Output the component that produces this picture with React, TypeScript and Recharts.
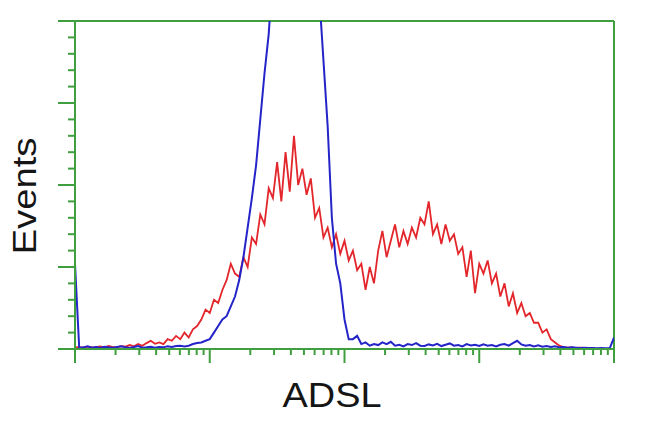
import React from 'react';
import { LineChart, Line, XAxis, YAxis, ReferenceLine } from 'recharts';

// histogram bins: 8 channels each, 1024 channels = 4 log decades
const BIN = 8;

const red = [
  0.5, 0.6, 0.4, 0.7, 0.5, 0.6, 0.8, 0.5, 0.9, 0.6,
  0.6, 0.9, 0.7, 1.2, 0.8, 1.5, 1, 1.8, 2.5, 1.6,
  2, 1.5, 3, 2.5, 4, 3, 5, 3.5, 6, 7,
  9, 12, 11, 15, 14, 18, 21, 26, 23, 22,
  28, 25, 34, 32, 41, 38, 49, 46, 57, 45,
  60, 48, 65, 50, 55, 47, 52, 40, 43, 34,
  37, 31, 35, 29, 33, 27, 30, 24, 26, 18,
  25, 20, 30, 36, 28, 33, 38, 31, 36, 32,
  37, 34, 40, 38, 45, 35, 38, 32, 38, 33,
  35, 29, 31, 22, 30, 17, 26, 23, 27, 20,
  23, 16, 20, 13, 17, 11, 14, 10, 11, 8,
  8, 5, 6, 3, 2, 1, 0.6, 0.4, 0.5, 0.3,
  0.4, 0.3, 0.2, null, null, null, null, null, null,
];

const blue = [
  26, 0.3, 0.5, 0.8, 0.4, 0.6, 0.3, 0.7, 0.5, 0.4,
  0.6, 0.8, 0.5, 0.3, 0.6, 0.9, 0.4, 0.5, 0.7, 0.4,
  0.6, 0.5, 0.8, 0.6, 0.9, 1, 0.8, 1, 1.5, 1.8,
  2, 2.5, 3, 5, 7, 9, 10, 13, 16, 21,
  28, 37, 46, 56, 70, 84, 96, 115, 140, 170,
  200, 220, 230, 230, 220, 200, 180, 160, 108, 88,
  68, 40, 26, 20, 9, 3, 3, 4, 1.5, 2,
  1, 1.5, 1.2, 2, 1.5, 2.2, 1, 1.3, 0.8, 1.5,
  1.2, 1.8, 1, 0.9, 1.4, 1.1, 1.6, 0.9, 1.3, 1.7,
  1, 1.2, 0.8, 1.5, 1.1, 1.3, 0.9, 1.4, 1, 1.2,
  0.8, 1.3, 1.5, 1, 1.8, 2.5, 1.4, 1, 1.2, 0.8,
  1.1, 0.7, 0.9, 0.6, 0.8, 0.5, 0.6, 0.4, 0.5, 0.4,
  0.3, 0.4, 0.3, 0.3, 0.2, 0.3, 0.2, 0.3, 3.5,
];

const xMajor = [0, 256, 512, 768, 1024];
const yMajor = [0, 25, 50, 75, 100];

const GREEN = '#3f9f3f';
const FONT = '"Liberation Sans", Arial, sans-serif';

const data = red.map((r, i) => ({ ch: i * BIN, red: r, blue: blue[i] }));

// log minor ticks inside each decade
const xTicks: number[] = [];
xMajor.forEach((m, d) => {
  xTicks.push(m);
  if (d < xMajor.length - 1) {
    for (let k = 2; k <= 9; k++) xTicks.push(m + 256 * Math.log10(k));
  }
});
const yTicks: number[] = [];
for (let v = 0; v <= 100; v += 5) yTicks.push(v);

const XTick = (props: any) => {
  const { x, y, payload } = props;
  const major = xMajor.includes(payload.value);
  return <line x1={x} y1={y} x2={x} y2={y + (major ? 14 : 6)} stroke={GREEN} strokeWidth={2} />;
};

const YTick = (props: any) => {
  const { x, y, payload } = props;
  const major = yMajor.includes(payload.value);
  return <line x1={x} y1={y} x2={x - (major ? 17 : 7)} y2={y} stroke={GREEN} strokeWidth={2} />;
};

export default function App() {
  return (
    <div style={{ position: 'absolute', left: 0, top: 0, width: 650, height: 432, background: '#fff' }}>
      <LineChart width={650} height={432} data={data} margin={{ top: 21, right: 36, bottom: 53, left: 15 }}>
        <XAxis
          dataKey="ch"
          type="number"
          domain={[0, 1024]}
          ticks={xTicks}
          interval={0}
          height={30}
          tickSize={0}
          tickMargin={0}
          tickLine={false}
          tick={<XTick />}
          axisLine={{ stroke: GREEN, strokeWidth: 2 }}
          allowDataOverflow
        />
        <YAxis
          type="number"
          domain={[0, 100]}
          ticks={yTicks}
          interval={0}
          width={60}
          tickSize={0}
          tickMargin={0}
          tickLine={false}
          tick={<YTick />}
          axisLine={{ stroke: GREEN, strokeWidth: 2 }}
          allowDataOverflow
        />
        <ReferenceLine y={100} stroke={GREEN} strokeWidth={2} />
        <ReferenceLine x={1024} stroke={GREEN} strokeWidth={2} />
        <Line dataKey="red" type="linear" stroke="#e3262b" strokeWidth={1.8} dot={false} isAnimationActive={false} connectNulls={false} />
        <Line dataKey="blue" type="linear" stroke="#2424c8" strokeWidth={2} dot={false} isAnimationActive={false} />
      </LineChart>
      <svg width={650} height={432} style={{ position: 'absolute', left: 0, top: 0, pointerEvents: 'none' }}>
        <text x={332} y={407} textAnchor="middle" fontFamily={FONT} fontSize={35} fill="#151515" textLength={99} lengthAdjust="spacingAndGlyphs">
          ADSL
        </text>
        <text transform="translate(36,196) rotate(-90)" textAnchor="middle" fontFamily={FONT} fontSize={33} fill="#151515" textLength={117} lengthAdjust="spacingAndGlyphs">
          Events
        </text>
      </svg>
    </div>
  );
}
